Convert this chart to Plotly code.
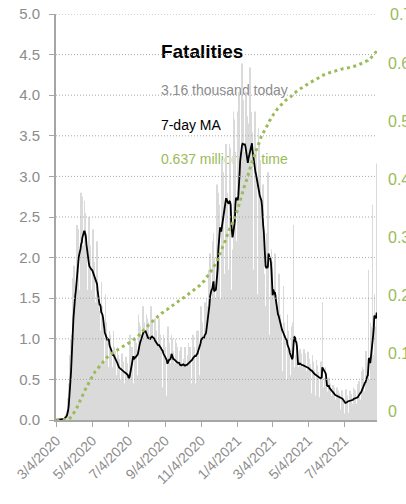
import numpy as np
import pandas as pd
import plotly.graph_objects as go

# ---------------- data (US COVID-19 fatalities, thousands per day) ----------------
start_date = "2020-03-04"
# one row per week, Wednesday..Tuesday, values in thousands
daily_weeks = [
    [0.001, 0.002, 0.003, 0.002, 0.003, 0.004, 0.006],
    [0.008, 0.007, 0.012, 0.010, 0.012, 0.018, 0.023],
    [0.036, 0.052, 0.070, 0.085, 0.110, 0.190, 0.270],
    [0.45, 0.60, 0.80, 1.00, 0.90, 1.05, 1.75],
    [1.55, 1.70, 1.90, 1.55, 1.20, 1.45, 2.40],
    [2.40, 2.35, 2.35, 1.90, 1.45, 1.60, 2.70],
    [2.80, 2.50, 2.75, 2.15, 1.55, 1.80, 2.70],
    [2.55, 2.30, 2.10, 1.60, 1.15, 1.35, 2.50],
    [2.25, 2.15, 2.00, 1.60, 1.10, 1.30, 2.35],
    [2.10, 1.95, 1.80, 1.45, 0.95, 1.25, 2.20],
    [1.50, 1.40, 1.35, 1.30, 0.95, 1.10, 1.70],
    [1.40, 1.30, 1.10, 0.70, 0.70, 0.65, 1.55],
    [1.20, 1.15, 1.00, 0.75, 0.60, 0.65, 1.10],
    [1.05, 0.95, 0.85, 0.65, 0.45, 0.55, 1.10],
    [0.90, 0.85, 0.75, 0.55, 0.35, 0.45, 0.90],
    [0.80, 0.75, 0.70, 0.50, 0.30, 0.40, 0.82],
    [0.75, 0.72, 0.65, 0.45, 0.30, 0.38, 0.78],
    [0.72, 0.70, 0.55, 0.25, 0.26, 0.45, 1.05],
    [0.95, 0.90, 0.90, 0.75, 0.45, 0.45, 0.90],
    [1.00, 0.95, 0.95, 0.85, 0.50, 0.55, 1.30],
    [1.15, 1.20, 1.15, 1.05, 0.55, 0.75, 1.40],
    [1.40, 1.30, 1.20, 1.05, 0.55, 0.55, 1.30],
    [1.25, 1.20, 1.15, 1.05, 0.50, 0.55, 1.40],
    [1.35, 1.20, 1.10, 1.00, 0.50, 0.45, 1.25],
    [1.25, 1.10, 1.00, 0.95, 0.45, 0.45, 1.25],
    [1.15, 1.05, 0.90, 0.85, 0.40, 0.35, 1.05],
    [1.00, 0.95, 0.90, 0.70, 0.30, 0.25, 0.75],
    [1.15, 1.10, 0.95, 0.70, 0.35, 0.40, 1.05],
    [1.00, 0.90, 0.85, 0.70, 0.30, 0.30, 1.00],
    [0.95, 0.90, 0.80, 0.70, 0.30, 0.27, 0.85],
    [0.90, 0.90, 0.80, 0.70, 0.35, 0.30, 0.75],
    [0.90, 0.90, 0.85, 0.70, 0.35, 0.35, 0.80],
    [0.95, 0.90, 0.90, 0.75, 0.40, 0.45, 0.85],
    [1.05, 1.00, 0.90, 0.85, 0.40, 0.45, 0.95],
    [1.10, 1.10, 1.10, 1.00, 0.50, 0.55, 1.25],
    [1.40, 1.20, 1.20, 1.00, 0.50, 0.55, 1.45],
    [1.45, 1.32, 1.50, 1.40, 0.80, 0.95, 1.85],
    [2.05, 2.05, 1.90, 1.50, 0.95, 1.05, 2.20],
    [2.30, 1.20, 2.00, 1.50, 1.00, 1.60, 2.90],
    [2.85, 2.80, 2.65, 2.30, 1.50, 1.45, 2.70],
    [3.20, 3.15, 3.05, 2.60, 1.75, 1.80, 3.30],
    [3.40, 3.15, 2.80, 2.55, 1.70, 1.85, 3.40],
    [3.35, 2.90, 1.20, 1.60, 1.45, 2.10, 3.80],
    [3.70, 3.30, 2.60, 2.20, 1.40, 2.00, 3.80],
    [4.04, 3.99, 3.79, 3.30, 2.05, 2.05, 4.39],
    [4.24, 3.94, 3.79, 3.30, 2.05, 1.85, 4.04],
    [3.99, 3.74, 3.19, 3.65, 2.25, 2.15, 4.34],
    [4.14, 3.79, 3.54, 3.00, 1.85, 1.80, 3.64],
    [3.80, 3.70, 3.35, 2.75, 1.50, 1.55, 3.60],
    [3.25, 3.40, 3.20, 2.60, 1.30, 1.10, 2.25],
    [2.90, 2.90, 1.80, 1.40, 0.90, 1.00, 2.30],
    [2.80, 3.05, 2.90, 1.05, 0.85, 0.95, 2.00],
    [2.10, 1.95, 1.85, 1.55, 0.70, 0.80, 2.05],
    [1.60, 1.55, 1.40, 1.10, 0.60, 0.70, 1.80],
    [1.35, 1.30, 1.20, 0.90, 0.50, 0.60, 1.65],
    [1.20, 1.15, 1.05, 0.85, 0.45, 0.50, 1.30],
    [1.10, 1.05, 0.85, 0.55, 0.25, 0.45, 1.15],
    [0.95, 1.20, 2.40, 0.65, 0.35, 0.40, 0.80],
    [0.92, 0.87, 0.82, 0.65, 0.35, 0.40, 0.87],
    [0.87, 0.82, 0.77, 0.65, 0.35, 0.38, 0.87],
    [0.82, 0.82, 0.75, 0.60, 0.32, 0.35, 0.84],
    [0.77, 0.75, 0.69, 0.58, 0.30, 0.33, 0.80],
    [0.72, 0.67, 0.62, 0.52, 0.27, 0.30, 0.74],
    [0.67, 0.63, 0.59, 0.48, 0.25, 0.28, 0.69],
    [0.72, 0.67, 1.45, 0.40, 0.22, 0.18, 0.52],
    [0.65, 0.55, 0.50, 0.35, 0.18, 0.20, 0.52],
    [0.48, 0.45, 0.42, 0.30, 0.14, 0.16, 0.43],
    [0.42, 0.40, 0.36, 0.25, 0.12, 0.15, 0.40],
    [0.38, 0.36, 0.33, 0.22, 0.10, 0.13, 0.37],
    [0.36, 0.33, 0.25, 0.12, 0.07, 0.08, 0.26],
    [0.38, 0.33, 0.30, 0.18, 0.08, 0.09, 0.32],
    [0.36, 0.33, 0.32, 0.20, 0.08, 0.13, 0.40],
    [0.38, 0.36, 0.35, 0.20, 0.09, 0.14, 0.44],
    [0.48, 0.46, 0.48, 0.25, 0.11, 0.21, 0.60],
    [0.65, 0.62, 0.62, 0.35, 0.15, 0.26, 0.85],
    [0.79, 0.75, 0.70, 1.85, 0.15, 0.16, 0.50],
    [1.20, 1.15, 1.09, 2.65, 0.55, 0.80, 1.55],
    [1.15, 1.10, 0.95, 3.16],
]

tick_dates = ["2020-03-04", "2020-05-04", "2020-07-04", "2020-09-04", "2020-11-04",
              "2021-01-04", "2021-03-04", "2021-05-04", "2021-07-04"]
tick_labels = ["3/4/2020", "5/4/2020", "7/4/2020", "9/4/2020", "11/4/2020",
               "1/4/2021", "3/4/2021", "5/4/2021", "7/4/2021"]
left_ticks = [0.0, 0.5, 1.0, 1.5, 2.0, 2.5, 3.0, 3.5, 4.0, 4.5, 5.0]
right_ticks = [0, 0.1, 0.2, 0.3, 0.4, 0.5, 0.6, 0.7]

title_text = "Fatalities"
today_text = "3.16 thousand today"
ma_text = "7-day MA"
total_text = "0.637 million all time"

# ---------------- derived series ----------------
daily = [v for week in daily_weeks for v in week]
dates = pd.date_range(start_date, periods=len(daily), freq="D")
ma7 = pd.Series(daily).rolling(7, min_periods=1).mean()
cum_millions = np.cumsum(daily) / 1000.0

FONT = "Liberation Sans, Arial, sans-serif"
GRAY = "#8c8c8c"
AXIS = "#a6a6a6"
GREEN = "#9bbb59"

fig = go.Figure()

# legend-like text, drawn beneath the bars (main subplot)
fig.add_trace(go.Scatter(
    x=[pd.Timestamp("2020-08-28")] * 4,
    y=[4.52, 4.04, 3.61, 3.20],
    mode="text",
    text=["<b>" + title_text + "</b>", today_text, ma_text, total_text],
    textposition="middle right",
    textfont=dict(family=FONT, size=[19, 14, 14, 14],
                  color=["#000000", GRAY, "#000000", GREEN]),
    hoverinfo="skip", showlegend=False, xaxis="x", yaxis="y",
))

fig.add_trace(go.Bar(
    x=dates, y=daily, marker=dict(color="#dadada", line=dict(width=0)),
    xaxis="x", yaxis="y2", hoverinfo="skip", showlegend=False,
))
fig.add_trace(go.Scatter(
    x=dates, y=ma7, mode="lines", line=dict(color="#000000", width=1.8),
    xaxis="x", yaxis="y2", hoverinfo="skip", showlegend=False,
))
fig.add_trace(go.Scatter(
    x=dates, y=cum_millions, mode="lines",
    line=dict(color=GREEN, width=3, dash="3px,3.5px"),
    xaxis="x", yaxis="y3", hoverinfo="skip", showlegend=False,
))

shapes = []
for v in left_ticks[1:]:
    shapes.append(dict(type="line", xref="paper", x0=0, x1=1, yref="y", y0=v, y1=v,
                       line=dict(color="#a8a8a8", width=1, dash="1px,2px"), layer="above"))

fig.update_layout(
    width=406, height=504,
    margin=dict(l=56, r=29, t=14, b=84, pad=0),
    paper_bgcolor="white", plot_bgcolor="white",
    showlegend=False, bargap=0.3,
    shapes=shapes,
    xaxis=dict(
        type="date", automargin=False,
        range=["2020-03-03 12:00", "2021-08-28 12:00"],
        tickmode="array", tickvals=tick_dates, ticktext=tick_labels,
        tickangle=-45, ticks="outside", ticklen=5, tickwidth=1, tickcolor=AXIS,
        showline=True, linecolor=AXIS, linewidth=2,
        showgrid=False, zeroline=False,
        tickfont=dict(family=FONT, size=14, color=GRAY),
    ),
    yaxis=dict(
        range=[0, 5], automargin=False, tickmode="array", tickvals=left_ticks, tickformat=".1f",
        ticks="outside", ticklen=5, tickwidth=1, tickcolor=AXIS,
        showline=True, linecolor=AXIS, linewidth=2,
        showgrid=False, zeroline=False, ticklabelstandoff=6,
        tickfont=dict(family=FONT, size=15, color=GRAY),
    ),
    yaxis2=dict(range=[0, 5], overlaying="y", visible=False, automargin=False),
    yaxis3=dict(
        range=[0, 0.7], overlaying="y", side="right", automargin=False,
        tickmode="array", tickvals=right_ticks[:-1],
        ticks="", showgrid=False, zeroline=False, showline=False,
        ticklabelshift=-9, ticklabelstandoff=10,
        tickfont=dict(family=FONT, size=16, color=GREEN),
    ),
    annotations=[dict(
        x=1, xref="paper", y=right_ticks[-1], yref="y3", xanchor="left", yanchor="middle",
        xshift=11, text=str(right_ticks[-1]), showarrow=False,
        font=dict(family=FONT, size=16, color=GREEN),
    )],
)

fig.write_html("out.html", config={"displayModeBar": False},
               post_script="document.body.style.margin='0';")
